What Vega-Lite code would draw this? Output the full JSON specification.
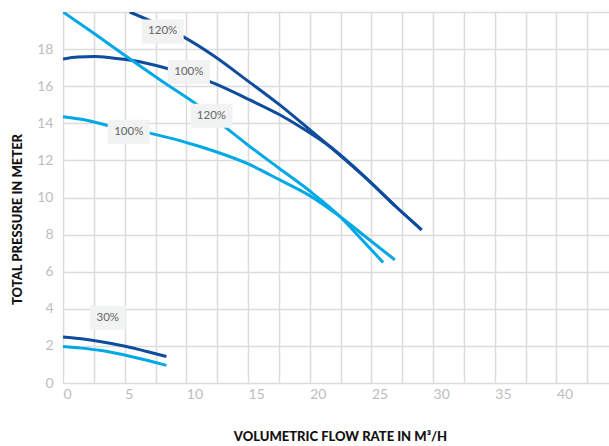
{
  "$schema": "https://vega.github.io/schema/vega-lite/v6.json",
  "width": 546,
  "height": 371,
  "autosize": "none",
  "padding": {"left": 63, "top": 12, "right": 0, "bottom": 63},
  "background": "white",
  "config": {"view": {"stroke": null}, "font": "Lato"},
  "datasets": {
    "curves": [
      {"pump": "dark", "speed": "120%", "flow": 5.41, "pressure": 20.0},
      {"pump": "dark", "speed": "120%", "flow": 7.5, "pressure": 19.4},
      {"pump": "dark", "speed": "120%", "flow": 9.73, "pressure": 18.67},
      {"pump": "dark", "speed": "120%", "flow": 12.3, "pressure": 17.6},
      {"pump": "dark", "speed": "120%", "flow": 14.87, "pressure": 16.34},
      {"pump": "dark", "speed": "120%", "flow": 17.57, "pressure": 14.99},
      {"pump": "dark", "speed": "120%", "flow": 19.74, "pressure": 13.8},
      {"pump": "dark", "speed": "120%", "flow": 21.63, "pressure": 12.75},
      {"pump": "dark", "speed": "120%", "flow": 24.87, "pressure": 10.86},
      {"pump": "dark", "speed": "120%", "flow": 27.0, "pressure": 9.5},
      {"pump": "dark", "speed": "120%", "flow": 29.07, "pressure": 8.26},
      {"pump": "dark", "speed": "100%", "flow": 0, "pressure": 17.47},
      {"pump": "dark", "speed": "100%", "flow": 1.2, "pressure": 17.57},
      {"pump": "dark", "speed": "100%", "flow": 2.57, "pressure": 17.6},
      {"pump": "dark", "speed": "100%", "flow": 4.0, "pressure": 17.52},
      {"pump": "dark", "speed": "100%", "flow": 5.68, "pressure": 17.38},
      {"pump": "dark", "speed": "100%", "flow": 8.38, "pressure": 16.97},
      {"pump": "dark", "speed": "100%", "flow": 10.2, "pressure": 16.62},
      {"pump": "dark", "speed": "100%", "flow": 11.9, "pressure": 16.25},
      {"pump": "dark", "speed": "100%", "flow": 15.14, "pressure": 15.26},
      {"pump": "dark", "speed": "100%", "flow": 17.57, "pressure": 14.46},
      {"pump": "dark", "speed": "100%", "flow": 19.74, "pressure": 13.6},
      {"pump": "dark", "speed": "100%", "flow": 21.63, "pressure": 12.75},
      {"pump": "dark", "speed": "100%", "flow": 24.87, "pressure": 10.86},
      {"pump": "dark", "speed": "100%", "flow": 27.0, "pressure": 9.5},
      {"pump": "dark", "speed": "100%", "flow": 29.07, "pressure": 8.26},
      {"pump": "dark", "speed": "30%", "flow": 0, "pressure": 2.48},
      {"pump": "dark", "speed": "30%", "flow": 1.5, "pressure": 2.38},
      {"pump": "dark", "speed": "30%", "flow": 2.98, "pressure": 2.24},
      {"pump": "dark", "speed": "30%", "flow": 5.14, "pressure": 1.97},
      {"pump": "dark", "speed": "30%", "flow": 6.8, "pressure": 1.7},
      {"pump": "dark", "speed": "30%", "flow": 8.38, "pressure": 1.43},
      {"pump": "light", "speed": "120%", "flow": 0, "pressure": 20.0},
      {"pump": "light", "speed": "120%", "flow": 2.5, "pressure": 18.85},
      {"pump": "light", "speed": "120%", "flow": 5.14, "pressure": 17.6},
      {"pump": "light", "speed": "120%", "flow": 8.0, "pressure": 16.28},
      {"pump": "light", "speed": "120%", "flow": 11.09, "pressure": 14.9},
      {"pump": "light", "speed": "120%", "flow": 13.25, "pressure": 13.74},
      {"pump": "light", "speed": "120%", "flow": 15.14, "pressure": 12.75},
      {"pump": "light", "speed": "120%", "flow": 17.57, "pressure": 11.55},
      {"pump": "light", "speed": "120%", "flow": 20.0, "pressure": 10.35},
      {"pump": "light", "speed": "120%", "flow": 22.44, "pressure": 8.98},
      {"pump": "light", "speed": "120%", "flow": 24.2, "pressure": 7.75},
      {"pump": "light", "speed": "120%", "flow": 25.95, "pressure": 6.5},
      {"pump": "light", "speed": "100%", "flow": 0, "pressure": 14.35},
      {"pump": "light", "speed": "100%", "flow": 2.0, "pressure": 14.15},
      {"pump": "light", "speed": "100%", "flow": 3.79, "pressure": 13.86},
      {"pump": "light", "speed": "100%", "flow": 7.03, "pressure": 13.47},
      {"pump": "light", "speed": "100%", "flow": 11.09, "pressure": 12.75},
      {"pump": "light", "speed": "100%", "flow": 14.87, "pressure": 11.85},
      {"pump": "light", "speed": "100%", "flow": 17.57, "pressure": 10.95},
      {"pump": "light", "speed": "100%", "flow": 20.0, "pressure": 10.1},
      {"pump": "light", "speed": "100%", "flow": 22.44, "pressure": 8.98},
      {"pump": "light", "speed": "100%", "flow": 24.5, "pressure": 7.9},
      {"pump": "light", "speed": "100%", "flow": 26.9, "pressure": 6.64},
      {"pump": "light", "speed": "30%", "flow": 0, "pressure": 1.97},
      {"pump": "light", "speed": "30%", "flow": 1.5, "pressure": 1.88},
      {"pump": "light", "speed": "30%", "flow": 2.98, "pressure": 1.76},
      {"pump": "light", "speed": "30%", "flow": 5.68, "pressure": 1.4},
      {"pump": "light", "speed": "30%", "flow": 8.38, "pressure": 0.95}
    ],
    "labels": [
      {"label": "120%", "flow": 8.08, "pressure": 18.95},
      {"label": "100%", "flow": 10.2, "pressure": 16.77},
      {"label": "120%", "flow": 12.03, "pressure": 14.41},
      {"label": "100%", "flow": 5.33, "pressure": 13.55},
      {"label": "30%", "flow": 3.63, "pressure": 3.52}
    ]
  },
  "layer": [
    {
      "data": {"name": "curves"},
      "mark": {"type": "line", "strokeWidth": 3, "clip": true, "interpolate": "monotone"},
      "encoding": {
        "x": {
          "field": "flow", "type": "quantitative",
          "scale": {"domain": [0, 44.26], "nice": false, "zero": false},
          "axis": {
            "values": [0, 2.5, 5, 7.5, 10, 12.5, 15, 17.5, 20, 22.5, 25, 27.5, 30, 32.5, 35, 37.5, 40, 42.5],
            "tickCount": 40,
            "labelExpr": "datum.value % 5 === 0 ? format(datum.value, 'd') : ''",
            "labelOverlap": false,
            "grid": true, "gridColor": "#dcdcdc", "gridWidth": 1.5,
            "domain": false, "ticks": false,
            "labelAlign": "left", "labelFlush": false, "labelPadding": 4,
            "labelColor": "#bdbdbd", "labelFontSize": 14,
            "title": "VOLUMETRIC FLOW RATE IN M³/H",
            "titleFontWeight": 900, "titleFontSize": 13, "titleColor": "#111111",
            "titlePadding": 29, "titleX": 277
          }
        },
        "y": {
          "field": "pressure", "type": "quantitative",
          "scale": {"domain": [0, 20], "nice": false},
          "axis": {
            "values": [0, 2, 4, 6, 8, 10, 12, 14, 16, 18, 20],
            "tickCount": 40,
            "format": "d",
            "labelExpr": "datum.value === 20 ? '' : format(datum.value, 'd')",
            "labelOverlap": false,
            "grid": true, "gridColor": "#dcdcdc", "gridWidth": 1.5,
            "domain": false, "ticks": false,
            "labelPadding": 10, "labelColor": "#bdbdbd", "labelFontSize": 14,
            "title": "TOTAL PRESSURE IN METER",
            "titleFontWeight": 900, "titleFontSize": 13, "titleColor": "#111111",
            "titlePadding": 12, "titleY": 207
          }
        },
        "color": {
          "field": "pump", "type": "nominal",
          "scale": {"domain": ["dark", "light"], "range": ["#0e4c9e", "#00a8e6"]},
          "legend": null
        },
        "detail": {"field": "speed", "type": "nominal"}
      }
    },
    {
      "data": {"name": "labels"},
      "transform": [{"filter": "datum.label !== '30%'"}],
      "mark": {"type": "rect", "width": 42, "height": 24, "color": "#f1f2f2"},
      "encoding": {
        "x": {"field": "flow", "type": "quantitative"},
        "y": {"field": "pressure", "type": "quantitative"}
      }
    },
    {
      "data": {"name": "labels"},
      "transform": [{"filter": "datum.label === '30%'"}],
      "mark": {"type": "rect", "width": 36, "height": 24, "color": "#f1f2f2"},
      "encoding": {
        "x": {"field": "flow", "type": "quantitative"},
        "y": {"field": "pressure", "type": "quantitative"}
      }
    },
    {
      "data": {"name": "labels"},
      "mark": {"type": "text", "fontSize": 11.5, "color": "#666666", "align": "center", "baseline": "middle"},
      "encoding": {
        "x": {"field": "flow", "type": "quantitative"},
        "y": {"field": "pressure", "type": "quantitative"},
        "text": {"field": "label", "type": "nominal"}
      }
    }
  ]
}
